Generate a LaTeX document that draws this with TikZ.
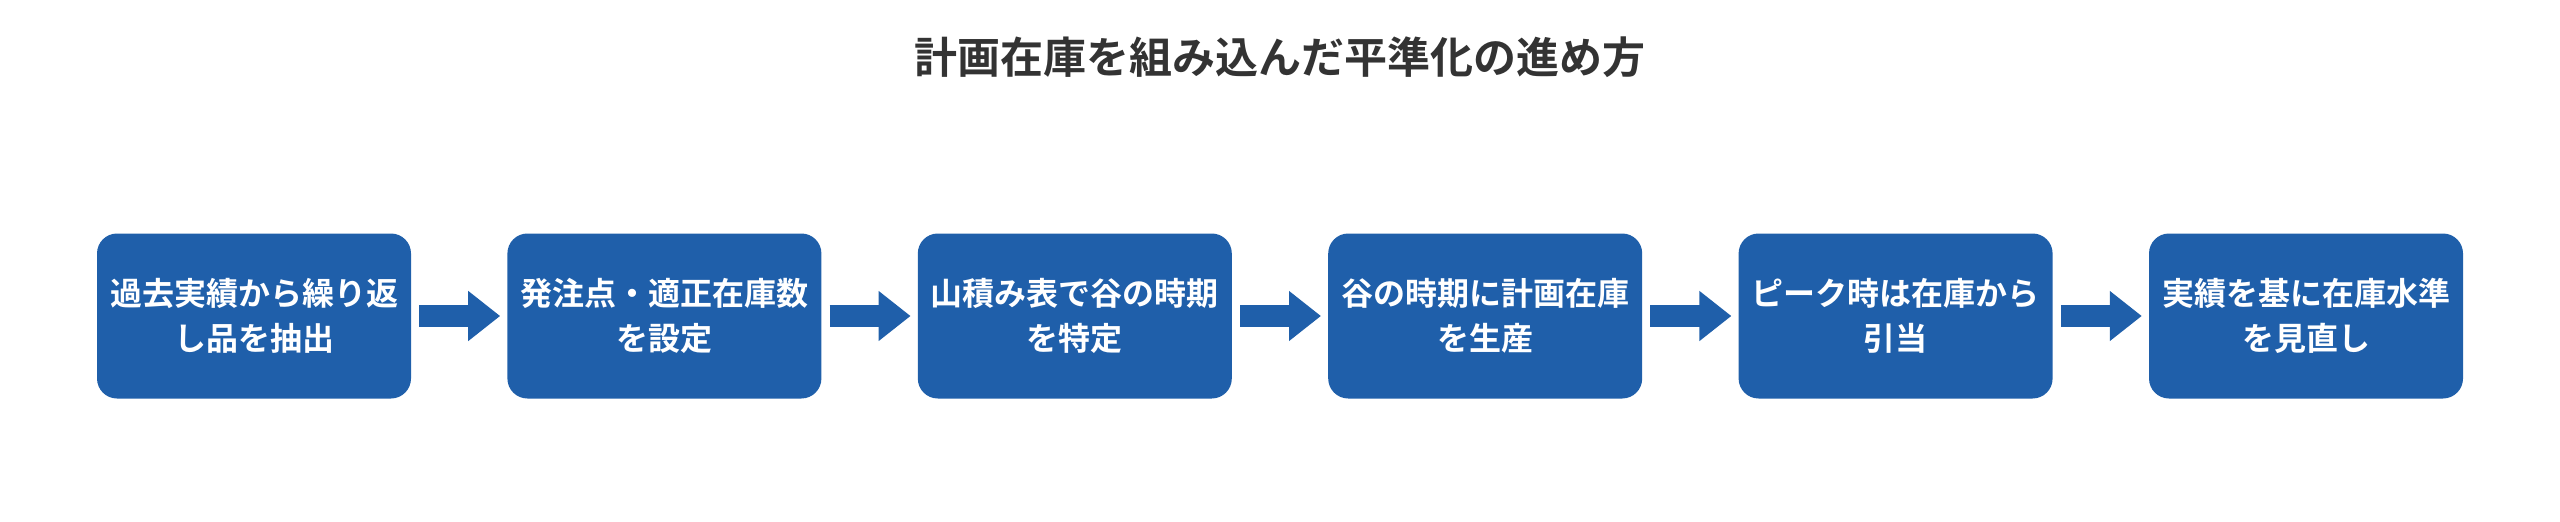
\documentclass[tikz,border=0pt]{standalone}
\usepackage{fontspec}
\setmainfont{Noto Sans CJK JP}[BoldFont={Noto Sans CJK JP Bold}]
\usetikzlibrary{positioning,arrows.meta}
\definecolor{stepblue}{HTML}{1F5FAA}
\definecolor{titlegray}{HTML}{333333}
\tikzset{
  stepbox/.style={fill=stepblue, rounded corners=20pt, minimum width=314pt, minimum height=165pt,
    text width=300pt, align=center, text=white, inner sep=0pt,
    font=\fontsize{32pt}{45pt}\selectfont\bfseries},
  flow/.style={draw=stepblue, line width=22pt, shorten <=8pt, shorten >=7pt,
    -{Triangle[length=32pt,width=48pt]}}
}
\begin{document}
\begin{tikzpicture}[x=1pt,y=-1pt]
  \useasboundingbox (0,0) rectangle (2560,522);
  \node[font=\fontsize{43pt}{50pt}\selectfont\bfseries, text=titlegray] (title) at (1280,57) {計画在庫を組み込んだ平準化の進め方};

  \node[stepbox] (b1) at (254,316) {過去実績から繰り返\\し品を抽出\\[8pt]};
  \node[stepbox, right=96pt of b1] (b2) {発注点・適正在庫数\\を設定\\[8pt]};
  \node[stepbox, right=96pt of b2] (b3) {山積み表で谷の時期\\を特定\\[8pt]};
  \node[stepbox, right=96pt of b3] (b4) {谷の時期に計画在庫\\を生産\\[8pt]};
  \node[stepbox, right=96pt of b4] (b5) {ピーク時は在庫から\\引当\\[8pt]};
  \node[stepbox, right=96pt of b5] (b6) {実績を基に在庫水準\\を見直し\\[8pt]};

  \foreach \a/\b in {b1/b2,b2/b3,b3/b4,b4/b5,b5/b6}
    \draw[flow] (\a) -- (\b);
\end{tikzpicture}
\end{document}
